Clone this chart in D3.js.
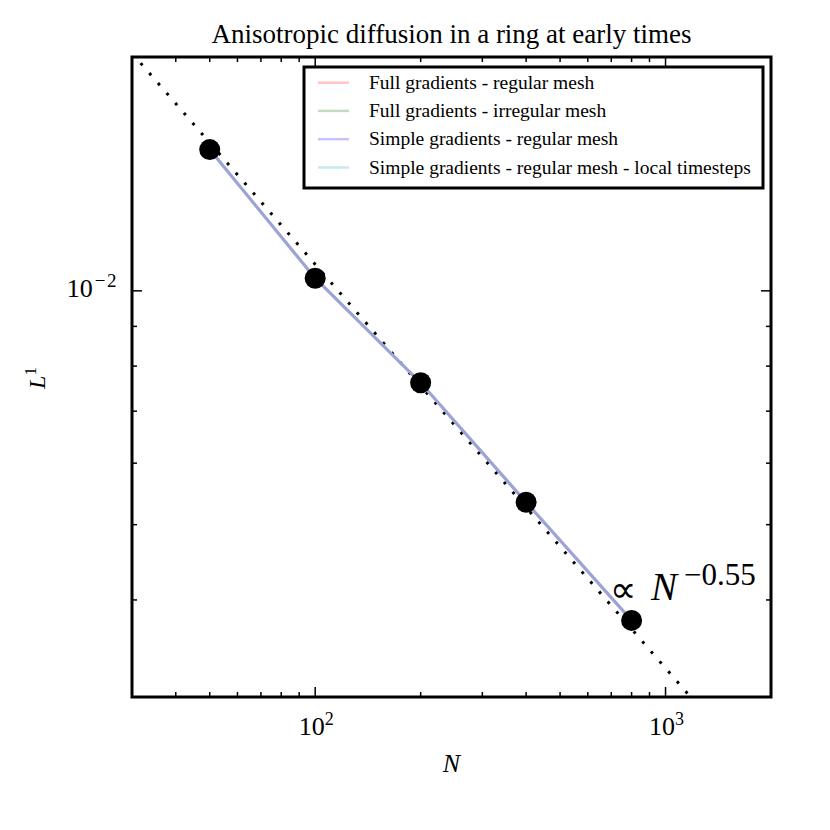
<!DOCTYPE html>
<html>
<head>
<meta charset="utf-8">
<script src="https://cdn.jsdelivr.net/npm/d3@7"></script>
<style>
  html, body { margin: 0; padding: 0; background: #fff; }
  svg { display: block; }
  text { font-family: "Liberation Serif", "DejaVu Serif", serif; fill: #000; }
</style>
</head>
<body>
<div id="chart"></div>
<script>
// ---- data ----
const resolutions = [50, 100, 200, 400, 800];
const l1Errors = [0.01520, 0.01038, 0.007614, 0.005343, 0.003765];
const fitLineN = [30, 2000];
const fitLineL = [0.02023, 0.002279];
const fitLabelExp = "−0.55";
const legendLabels = [
  "Full gradients - regular mesh",
  "Full gradients - irregular mesh",
  "Simple gradients - regular mesh",
  "Simple gradients - regular mesh - local timesteps"
];
const legendColors = ["#ffc4c4", "#c2dcc2", "#c4c4fa", "#c4ecec"];
const xMajorTicks = [100, 1000];
const xMajorLabels = ["2", "3"];
const xMinorTicks = [40, 50, 60, 70, 80, 90, 200, 300, 400, 500, 600, 700, 800, 900];
const yMajorTicks = [0.01];
const yMajorLabels = ["−2"];
const yMinorTicks = [0.004, 0.005, 0.006, 0.007, 0.008, 0.009];
const xDomain = [30, 2000];
const yDomain = [0.003, 0.02];

// ---- layout ----
const W = 830, H = 830;
const plot = { left: 132, right: 771, top: 57, bottom: 697 };

const svg = d3.select("#chart").append("svg").attr("width", W).attr("height", H);

const x = d3.scaleLog().domain(xDomain).range([plot.left, plot.right]);
const y = d3.scaleLog().domain(yDomain).range([plot.bottom, plot.top]);

svg.append("defs").append("clipPath").attr("id", "clip")
  .append("rect").attr("x", plot.left).attr("y", plot.top)
  .attr("width", plot.right - plot.left).attr("height", plot.bottom - plot.top);

const g = svg.append("g").attr("clip-path", "url(#clip)");

// fit line (dotted)
const fitData = fitLineN.map((n, i) => [n, fitLineL[i]]);
g.append("path")
  .datum(fitData)
  .attr("d", d3.line().x(d => x(d[0])).y(d => y(d[1])))
  .attr("fill", "none")
  .attr("stroke", "#000")
  .attr("stroke-width", 3)
  .attr("stroke-dasharray", "2.8 10.4");

// data line
const pts = resolutions.map((n, i) => [n, l1Errors[i]]);
g.append("path")
  .datum(pts)
  .attr("d", d3.line().x(d => x(d[0])).y(d => y(d[1])))
  .attr("fill", "none")
  .attr("stroke", "#9ea3d6")
  .attr("stroke-width", 3.2);

// markers
g.selectAll("circle.pt").data(pts).enter().append("circle")
  .attr("class", "pt")
  .attr("cx", d => x(d[0])).attr("cy", d => y(d[1]))
  .attr("r", 10.5).attr("fill", "#000");

// ---- axes (ticks inward on all 4 sides) ----
const axes = svg.append("g");
const majLen = 10, minLen = 5;
function vTick(px, len) {
  axes.append("line").attr("x1", px).attr("x2", px)
    .attr("y1", plot.bottom).attr("y2", plot.bottom - len)
    .attr("stroke", "#000").attr("stroke-width", 1.5);
  axes.append("line").attr("x1", px).attr("x2", px)
    .attr("y1", plot.top).attr("y2", plot.top + len)
    .attr("stroke", "#000").attr("stroke-width", 1.5);
}
function hTick(py, len) {
  axes.append("line").attr("y1", py).attr("y2", py)
    .attr("x1", plot.left).attr("x2", plot.left + len)
    .attr("stroke", "#000").attr("stroke-width", 1.5);
  axes.append("line").attr("y1", py).attr("y2", py)
    .attr("x1", plot.right).attr("x2", plot.right - len)
    .attr("stroke", "#000").attr("stroke-width", 1.5);
}
xMajorTicks.forEach(t => vTick(x(t), majLen));
xMinorTicks.forEach(t => vTick(x(t), minLen));
yMajorTicks.forEach(t => hTick(y(t), majLen));
yMinorTicks.forEach(t => hTick(y(t), minLen));

// x tick labels
xMajorTicks.forEach((t, i) => {
  const tx = axes.append("text")
    .attr("x", x(t) + 1).attr("y", plot.bottom + 38)
    .attr("text-anchor", "middle")
    .style("font-size", "26px");
  tx.append("tspan").text("10");
  tx.append("tspan").attr("dy", -10).style("font-size", "18px").text(xMajorLabels[i]);
});
// y tick labels
yMajorTicks.forEach((t, i) => {
  const tx = axes.append("text")
    .attr("x", 118).attr("y", y(t) + 6.5)
    .attr("text-anchor", "end")
    .style("font-size", "26px");
  tx.append("tspan").text("10");
  tx.append("tspan").attr("dx", 2).attr("dy", -10).style("font-size", "19px")
    .style("letter-spacing", "1.5px").text(yMajorLabels[i]);
});

// frame
svg.append("rect")
  .attr("x", plot.left).attr("y", plot.top)
  .attr("width", plot.right - plot.left).attr("height", plot.bottom - plot.top)
  .attr("fill", "none").attr("stroke", "#000").attr("stroke-width", 3);

// axis titles
svg.append("text")
  .attr("x", (plot.left + plot.right) / 2).attr("y", 772)
  .attr("text-anchor", "middle")
  .style("font-size", "26px").style("font-style", "italic")
  .text("N");

const yl = svg.append("text")
  .attr("transform", `translate(45, 378) rotate(-90)`)
  .attr("text-anchor", "middle")
  .style("font-size", "24px");
yl.append("tspan").style("font-style", "italic").text("L");
yl.append("tspan").attr("dy", -9).style("font-size", "17px").text("1");

// title
svg.append("text")
  .attr("x", (plot.left + plot.right) / 2).attr("y", 43)
  .attr("text-anchor", "middle")
  .style("font-size", "27px")
  .text("Anisotropic diffusion in a ring at early times");

// annotation
svg.append("text")
  .attr("x", 610).attr("y", 602)
  .style("font-family", "DejaVu Sans")
  .style("font-size", "37px")
  .text("∝");
svg.append("text")
  .attr("x", 651).attr("y", 600)
  .style("font-size", "39px").style("font-style", "italic")
  .text("N");
svg.append("text")
  .attr("x", 684).attr("y", 585)
  .style("font-size", "31px")
  .text(fitLabelExp);

// legend
const lg = svg.append("g");
const lgBox = { x: 304, y: 67, w: 459, h: 121 };
lg.append("rect")
  .attr("x", lgBox.x).attr("y", lgBox.y).attr("width", lgBox.w).attr("height", lgBox.h)
  .attr("fill", "#fff").attr("stroke", "#000").attr("stroke-width", 3);
const rowY = [82.7, 110.9, 139.2, 167.5];
legendLabels.forEach((lab, i) => {
  lg.append("line")
    .attr("x1", 318).attr("x2", 349)
    .attr("y1", rowY[i]).attr("y2", rowY[i])
    .attr("stroke", legendColors[i]).attr("stroke-width", 2.5);
  lg.append("text")
    .attr("x", 369).attr("y", rowY[i] + 6)
    .style("font-size", "19.5px")
    .text(lab);
});
</script>
</body>
</html>
